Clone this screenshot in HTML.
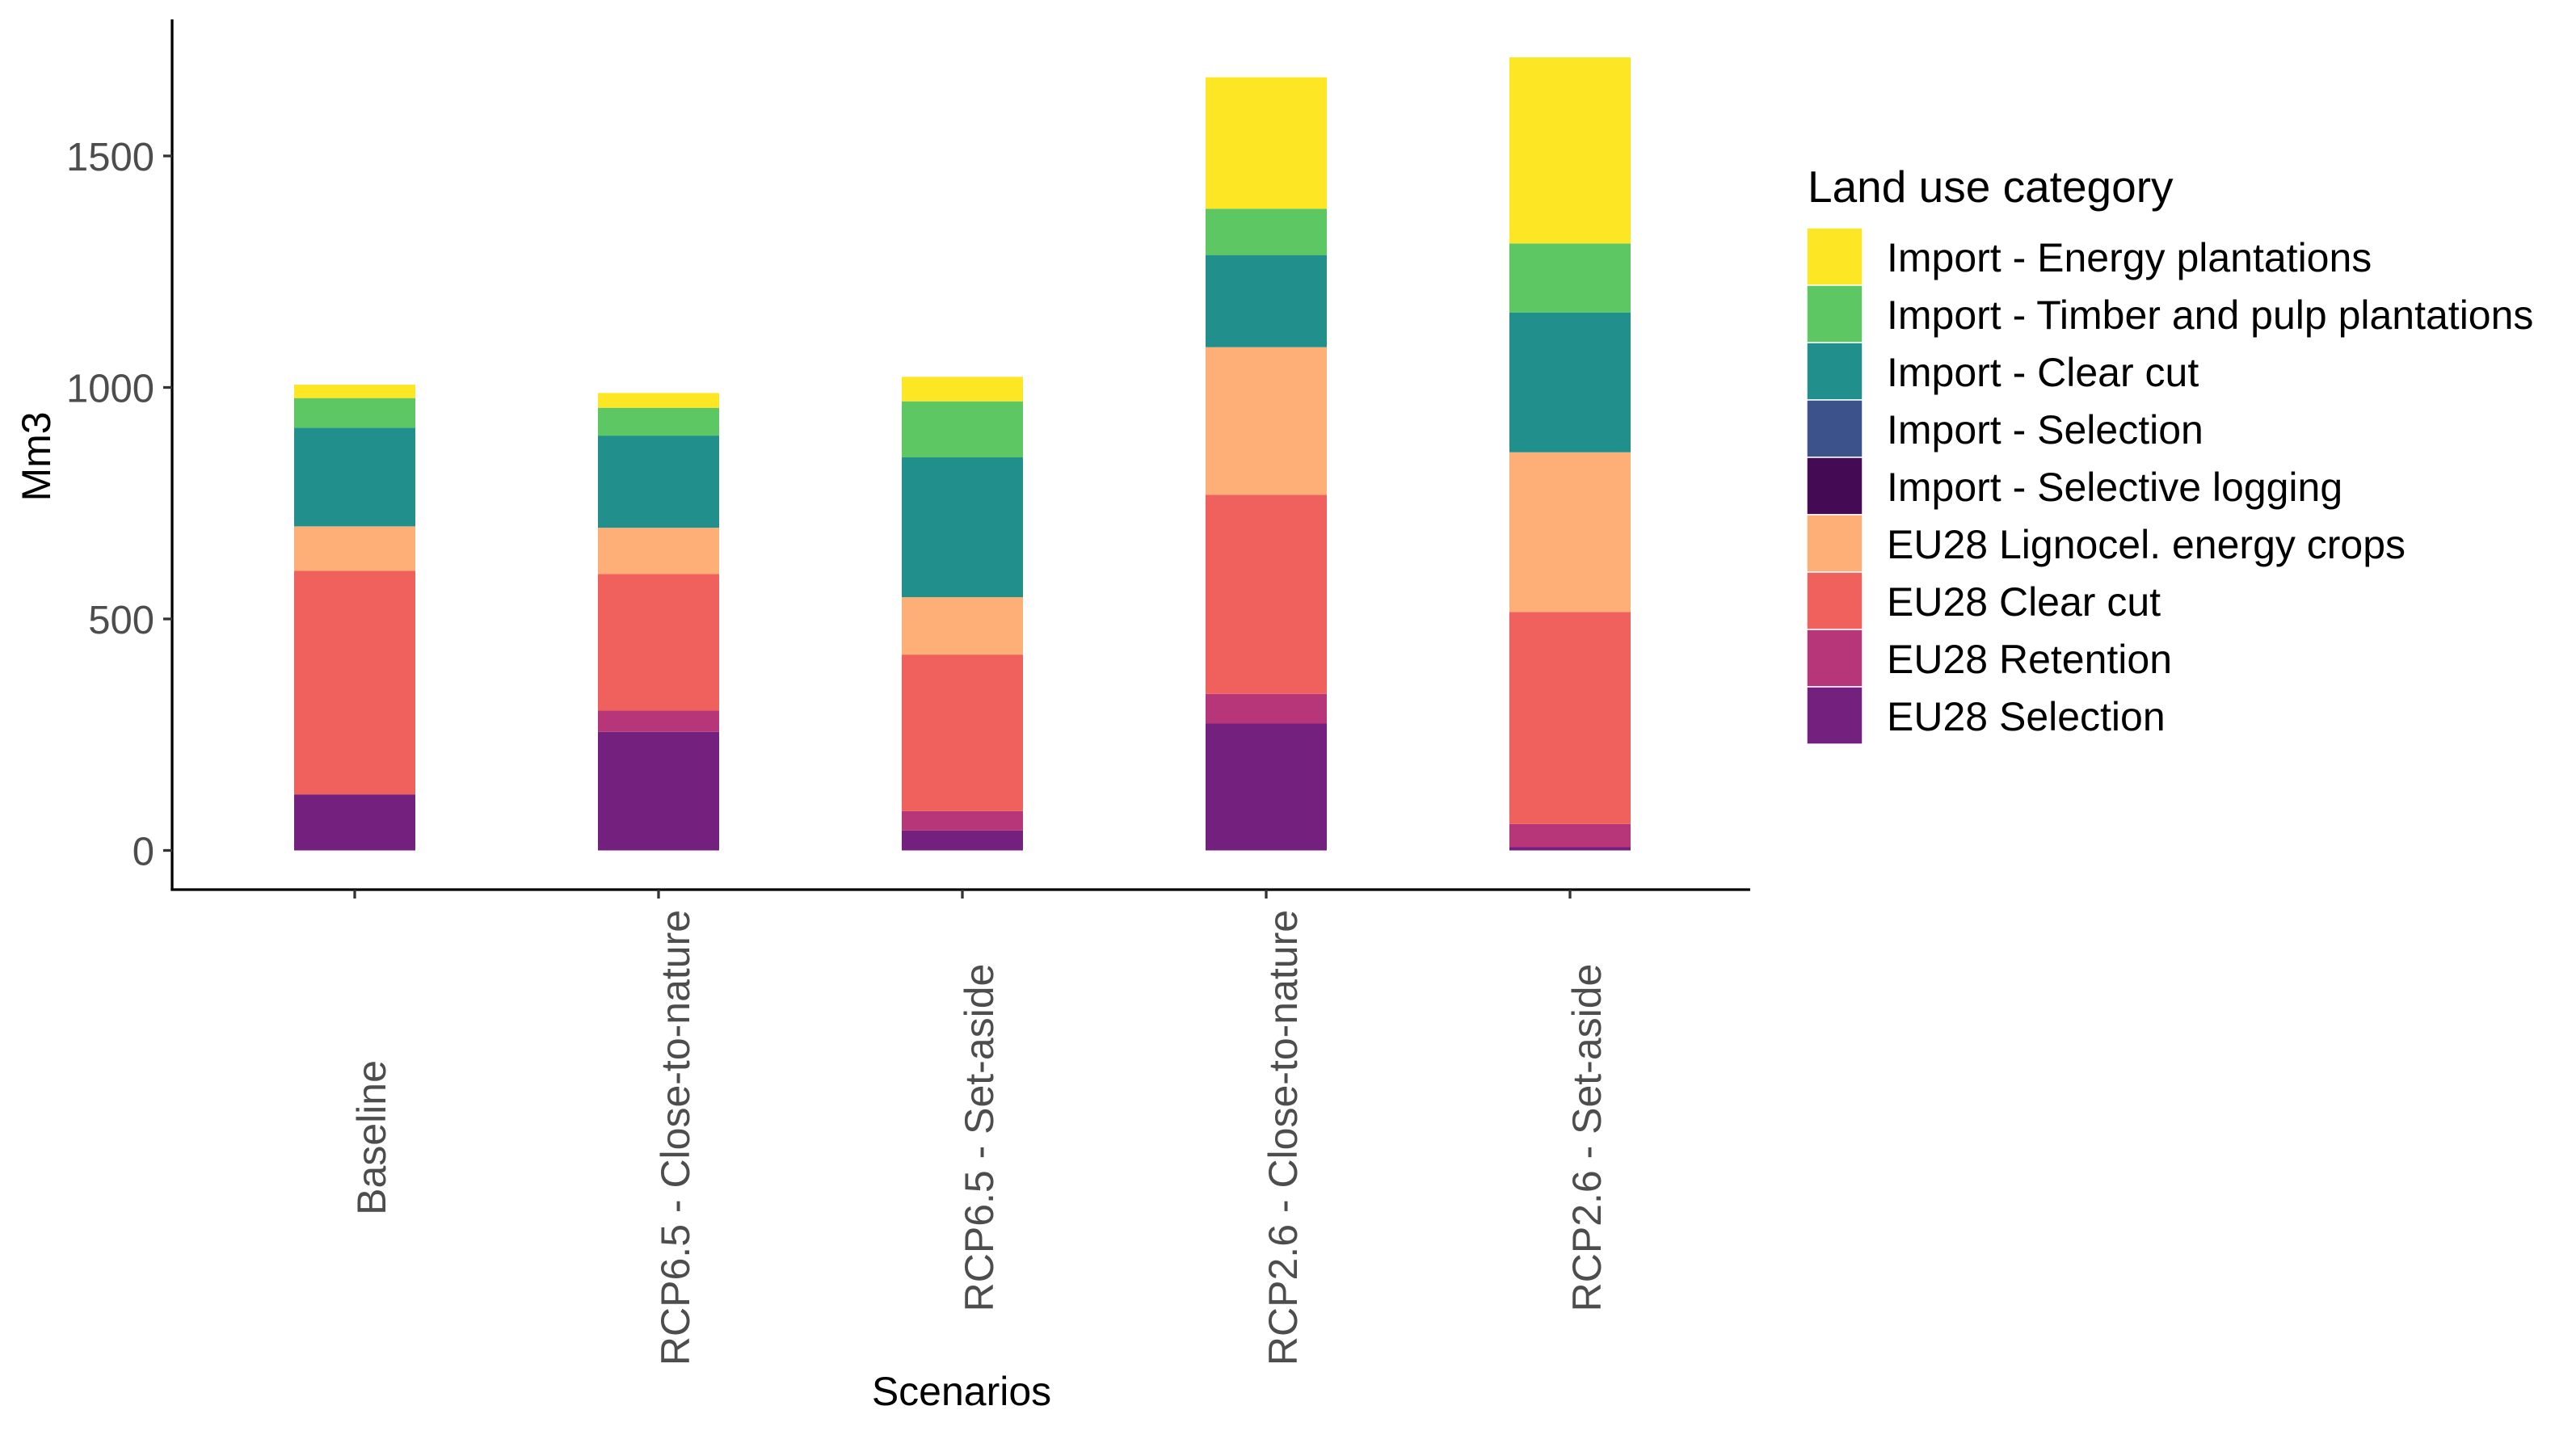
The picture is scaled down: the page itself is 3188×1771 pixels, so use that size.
<!DOCTYPE html>
<html><head><meta charset="utf-8"><style>
html,body{margin:0;padding:0;background:#fff}
svg{display:block;font-family:"Liberation Sans",Arial,sans-serif}
</style></head><body>
<svg id="chart" width="3188" height="1771" viewBox="0 0 3188 1771" xmlns="http://www.w3.org/2000/svg">
<g id="bars"></g>
<g id="axes"></g>
<g id="legend"></g>
</svg>
<script>
const scenarios = ["Baseline","RCP6.5 - Close-to-nature","RCP6.5 - Set-aside","RCP2.6 - Close-to-nature","RCP2.6 - Set-aside"];
// stack order bottom -> top
const categories = ["EU28 Selection","EU28 Retention","EU28 Clear cut","EU28 Lignocel. energy crops","Import - Selective logging","Import - Selection","Import - Clear cut","Import - Timber and pulp plantations","Import - Energy plantations"];
const colors = ["#73207e","#b63679","#f0605d","#feae77","#450a54","#3b528b","#21908c","#5dc863","#fde725"];
const euSelection   = [121, 256, 43, 274, 7];
const euRetention   = [0, 46, 42, 64, 50];
const euClearCut    = [483, 295, 338, 430, 458];
const euEnergyCrops = [96, 100, 124, 319, 345];
const impSelLogging = [0, 0, 0, 0, 0];
const impSelection  = [0, 0, 0, 0, 0];
const impClearCut   = [213, 199, 302, 199, 302];
const impTimber     = [64, 60, 121, 100, 149];
const impEnergy     = [29, 32, 53, 284, 402];
const yTicks = [0, 500, 1000, 1500];

const series = [euSelection, euRetention, euClearCut, euEnergyCrops, impSelLogging, impSelection, impClearCut, impTimber, impEnergy];
const NS = "http://www.w3.org/2000/svg";
const y0 = 1052.5, yPer = (1052.5 - 193) / 1500;
const yScale = v => y0 - v * yPer;
const x0 = 439, xStep = 376, barW = 150;
const xScale = i => x0 + i * xStep;
function mk(tag, attrs, parent){ const e = document.createElementNS(NS, tag); for (const k in attrs) e.setAttribute(k, attrs[k]); parent.appendChild(e); return e; }

const bars = document.getElementById("bars");
scenarios.forEach((s, i) => {
  let cum = 0;
  series.forEach((arr, c) => {
    const v = arr[i];
    if (v > 0) {
      const r = mk("rect", {x: xScale(i) - barW/2, y: yScale(cum + v), width: barW, height: yScale(cum) - yScale(cum + v), fill: colors[c]}, bars);
      
      
    }
    cum += v;
  });
});

const axes = document.getElementById("axes");
let l = mk("line", {x1: 213, y1: 24, x2: 213, y2: 1102.5, stroke: "#000", "stroke-width": 3.3}, axes);


l = mk("line", {x1: 211.4, y1: 1101, x2: 2166, y2: 1101, stroke: "#000", "stroke-width": 3.3}, axes);


yTicks.forEach(t => {
  const tk = mk("line", {x1: 202, y1: yScale(t), x2: 213, y2: yScale(t), stroke: "#333", "stroke-width": 3.3}, axes);
  
  
  const tx = mk("text", {x: 191, y: yScale(t) + 18, "text-anchor": "end", "font-size": 49, fill: "#4d4d4d"}, axes);
  tx.textContent = t;
  
  
});
scenarios.forEach((s, i) => {
  const x = xScale(i);
  const tk = mk("line", {x1: x, y1: 1101, x2: x, y2: 1112, stroke: "#333", "stroke-width": 3.3}, axes);
  
  
  const tx = mk("text", {transform: `translate(${x + 38},1408) rotate(-90)`, "text-anchor": "middle", "font-size": 50, fill: "#4d4d4d"}, axes);
  tx.textContent = s;
  
  
});
let t = mk("text", {x: 1190, y: 1739, "text-anchor": "middle", "font-size": 50, fill: "#000"}, axes);
t.textContent = "Scenarios";


t = mk("text", {transform: "translate(62,565) rotate(-90)", "text-anchor": "middle", "font-size": 50, fill: "#000"}, axes);
t.textContent = "Mm3";



const legend = document.getElementById("legend");
t = mk("text", {x: 2237, y: 250, "font-size": 55, fill: "#000"}, legend);
t.textContent = "Land use category";


for (let k = 0; k < categories.length; k++) {
  const c = categories.length - 1 - k;
  const top = 282 + k * 71;
  const r = mk("rect", {x: 2236, y: top, width: 69, height: 71, fill: colors[c], stroke: "#fff", "stroke-width": 1.5}, legend);
  
  
  const tx = mk("text", {x: 2335, y: top + 54, "font-size": 50, fill: "#000"}, legend);
  tx.textContent = categories[c];
  
  
}
</script>
</body></html>
